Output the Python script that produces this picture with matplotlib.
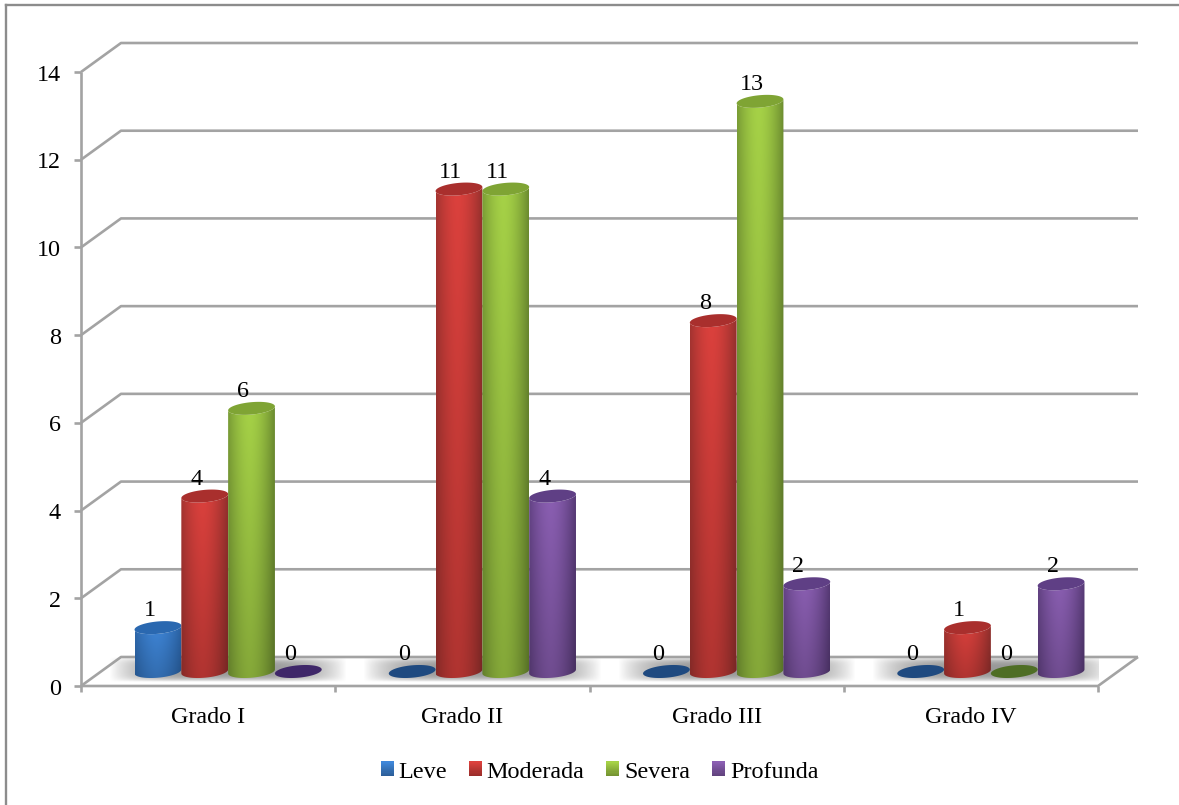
import numpy as np
import matplotlib
matplotlib.use("Agg")
import matplotlib.pyplot as plt
from matplotlib.patches import PathPatch, Rectangle, Patch
from matplotlib.path import Path
from matplotlib.colors import to_rgb
from matplotlib.legend_handler import HandlerBase
from matplotlib.lines import Line2D

# Data
categories = ["Grado I", "Grado II", "Grado III", "Grado IV"]
leve = [1, 0, 0, 0]
moderada = [4, 11, 8, 1]
severa = [6, 11, 13, 0]
profunda = [0, 4, 2, 2]
series_names = ["Leve", "Moderada", "Severa", "Profunda"]
y_ticks = [0, 2, 4, 6, 8, 10, 12, 14]

# Styles: light / edge / cap / flat cap for zero-height bars
light = ["#3f87da", "#dc413d", "#a6d247", "#8b5fb3"]
edge = ["#2a62a4", "#93302d", "#6c8c30", "#573a76"]
cap = ["#2a68b0", "#a92f2d", "#7fa434", "#5f3f85"]
flat = ["#1f4a80", "#7f2523", "#4f6e25", "#3f2769"]
GRID = "#a3a3a3"

W, H = 1179, 805
plt.rcParams["font.family"] = ["Liberation Serif", "DejaVu Serif"]
FS = 17.4

fig = plt.figure(figsize=(W / 100, H / 100), dpi=100, facecolor="white")

# Plot box is the front face of the 3D frame
L, R, T, B = 81, 1098, 72, 686
ax = fig.add_axes([L / W, 1 - B / H, (R - L) / W, (B - T) / H])
ax.set_axis_off()
ax.set_xlim(0, len(categories))
ax.set_ylim(0, 14)

px = len(categories) / (R - L)   # one pixel in x data units
py = 14 / (B - T)                # one pixel in y data units
depth_x, depth_y = 40 * px, 29 * py
bar_w = 46.8 * px
ELL_B, ELL_K = 6.2 * py, 2.0 * py
TEXT_DROP = 3 * py

LW = 1.9
line = dict(color=GRID, lw=LW, clip_on=False, solid_capstyle="butt", zorder=1)

# Outer frame: only the left and top edges fall inside the image
for xs, ys in (([5.5 / W, 5.5 / W], [0, 1 - 5.5 / H]), ([5.5 / W, 1], [1 - 5.5 / H, 1 - 5.5 / H])):
    fig.add_artist(Line2D(xs, ys, transform=fig.transFigure, color="#8c8c8c", lw=1.7))

# Walls, floor and ticks
for v in y_ticks:
    ax.plot([0, depth_x, 4 + depth_x], [v, v + depth_y, v + depth_y], **line)
    ax.plot([-7 * px, 0], [v, v], **line)
    ax.text(-20 * px, v - TEXT_DROP, str(v), ha="right", va="center", fontsize=FS, color="black", clip_on=False)
ax.plot([0, 0], [0, 14], **line)
ax.plot([0, 4, 4 + depth_x], [0, 0, depth_y], **line)
for i in range(5):
    ax.plot([i, i], [0, -6 * py], **line)

# Soft shadow lying on the floor beneath each group, fading toward its rim
ny, nx = 60, 240
gx, gy = np.meshgrid(np.linspace(-1, 1, nx), np.linspace(-1, 1, ny))
shadow = np.zeros((ny, nx, 4))
shadow[..., :3] = 0.58
shadow[..., 3] = np.clip(1 - np.abs(gx) ** 3.5, 0, 1) * np.clip(1 - np.abs(gy) ** 3.5, 0, 1) * 0.95
for i in range(len(categories)):
    cx = i + 0.5 + depth_x / 2
    ax.imshow(shadow, extent=[cx - 119 * px, cx + 119 * px, 4 * py, 28 * py],
              aspect="auto", zorder=1.5, interpolation="bilinear")

# Cylindrical bars
t_front = np.linspace(np.pi, 2 * np.pi, 40)
t_all = np.linspace(0, 2 * np.pi, 80)
base = depth_y / 2
series = [leve, moderada, severa, profunda]


def ring(cx, cy, t):
    return np.column_stack([cx + bar_w / 2 * np.cos(t), cy + ELL_B * np.sin(t) + ELL_K * np.cos(t)])


order = 2.0
for i in range(len(categories)):
    for j, vals in enumerate(series):
        v = vals[i]
        cx = i + 0.5 + depth_x / 2 + (j - 1.5) * bar_w
        top = base + v
        order += 0.1
        if v > 0:
            low = ring(cx, base, t_front)
            high = ring(cx, top, t_front[::-1])
            verts = np.vstack([low, high, low[:1]])
            clip = PathPatch(Path(verts), transform=ax.transData, fc="none", ec="none")
            ax.add_patch(clip)
            u = np.linspace(-1, 1, 120)
            s = np.abs(u + 0.08) ** 1.7
            s = np.clip(s / s.max(), 0, 1)[None, :, None]
            lo, hi = np.array(to_rgb(light[j])), np.array(to_rgb(edge[j]))
            # Lighter near the top of the column, darker toward the floor
            fall = np.linspace(1.0, 0.8, 60)[:, None, None]
            img = np.clip((lo * (1 - s) + hi * s) * fall, 0, 1)
            im = ax.imshow(img, extent=[cx - bar_w / 2, cx + bar_w / 2, base - 8 * py, top + 8 * py],
                           aspect="auto", zorder=order, interpolation="bilinear")
            im.set_clip_path(clip)
            ax.add_patch(PathPatch(Path(ring(cx, top, t_all)), fc=cap[j], ec="none", zorder=order + 0.01))
        else:
            ax.add_patch(PathPatch(Path(ring(cx, top, t_all)), fc=flat[j], ec="none", zorder=order + 0.01))
        ax.text(cx - 8.5 * px, top + 20 * py - TEXT_DROP, str(v), ha="center", va="center", fontsize=FS,
                color="black", zorder=20, clip_on=False)

ax.set_xlim(0, len(categories))
ax.set_ylim(0, 14)

# Category labels
for i, name in enumerate(categories):
    ax.text(i + 0.5, -28 * py - TEXT_DROP, name, ha="center", va="center", fontsize=FS, color="black", clip_on=False)


class GradientSwatch(HandlerBase):
    """Legend key filled with a top-to-bottom gradient, light to dark."""

    def create_artists(self, legend, orig_handle, xd, yd, width, height, fontsize, trans):
        base_rgb = np.array(to_rgb(orig_handle.get_facecolor()))
        n = 13
        parts = []
        for k in range(n):
            shade = 1.0 - 0.3 * k / (n - 1)
            y0 = -yd + height * (1 - (k + 1) / n)
            parts.append(Rectangle((-xd, y0), width, height / n + 0.2, fc=base_rgb * shade,
                                   ec="none", transform=trans))
        return parts


# Legend
handles = [Patch(fc=c, ec="none") for c in light]
fig.legend(handles, series_names, ncol=4, loc="center", bbox_to_anchor=(599.5 / W, 1 - 772 / H),
           frameon=False, fontsize=FS, handlelength=0.54, handleheight=0.54, handletextpad=0.2,
           columnspacing=0.9, borderpad=0, borderaxespad=0, labelcolor="black",
           handler_map={Patch: GradientSwatch()})

fig.savefig("out.png", dpi=100, facecolor="white")
